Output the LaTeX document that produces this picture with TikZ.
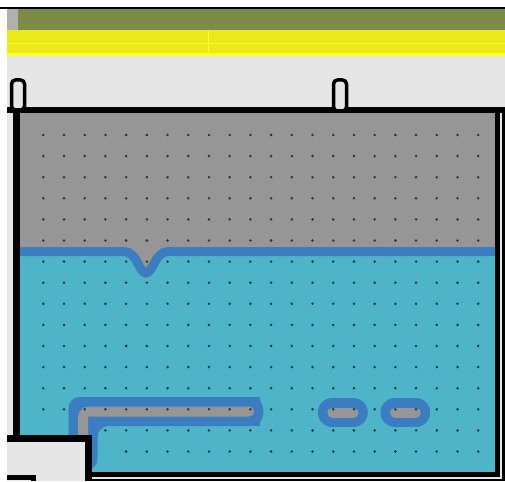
\documentclass[tikz,border=0pt]{standalone}
\usepackage{tikz}
\definecolor{bargreen}{HTML}{7A8C47}
\definecolor{barstub}{HTML}{B0B0AC}
\definecolor{baryellow}{HTML}{ECE91B}
\definecolor{barline}{HTML}{FFFF30}
\definecolor{floorgrey}{HTML}{E6E6E6}
\definecolor{airgrey}{HTML}{969696}
\definecolor{water}{HTML}{4EB4C7}
\definecolor{pipeblue}{HTML}{3A7DC1}
\definecolor{dotgrey}{HTML}{2B3636}
\tikzset{wall/.style={line width=7pt, black},
  surface/.style={line width=9pt, pipeblue},
  pipeedge/.style={line width=29pt, pipeblue, line cap=round},
  pipecore/.style={line width=10pt, airgrey, line cap=round},
  fitting/.style={line width=3.5pt, black, fill=floorgrey, rounded corners=4pt},
  dot/.style={fill=dotgrey}}

\begin{document}
\begin{tikzpicture}[x=1pt, y=-1pt]
\useasboundingbox (0,0) rectangle (505,481);
\fill [white] (0,0) rectangle (505,481);
% header bars
\draw [line width=2pt] (0,8.5) -- (505,8.5);
\fill [barstub] (7,9.5) rectangle (18,30);
\fill [bargreen] (18,9.5) rectangle (505,30);
\fill [baryellow] (7,30) rectangle (505,53);
\fill [barline] (7,53) rectangle (505,56.5);
\draw [barline, line width=1.3pt] (7,43.5) -- (505,43.5);
\draw [barline, line width=1.3pt] (208.5,31) -- (208.5,53);
\fill [floorgrey] (7,56.5) rectangle (505,481);
% tank contents
\fill [airgrey] (16.5,110) rectangle (497.5,475);
\fill [water] (16.5,251.5) -- (124,251.5) .. controls (137,251.5) and (139,273) .. (146,273)
  .. controls (153,273) and (155,251.5) .. (168,251.5) -- (497.5,251.5) -- (497.5,475) -- (16.5,475) -- cycle;
\draw [surface] (16.5,251.5) -- (124,251.5) .. controls (137,251.5) and (139,273) .. (146,273)
  .. controls (153,273) and (155,251.5) .. (168,251.5) -- (497.5,251.5);
% bubbles
\fill [pipeblue, rounded corners=11pt] (68.5,470) -- (68.5,397) -- (249,397)
  arc [start angle=-90, end angle=90, radius=14.5] -- (97.5,426) -- (97.5,470) -- cycle;
\draw [pipecore, rounded corners=6pt] (83,470) -- (83,411.5) -- (249,411.5);
\draw [pipeedge] (332.3,412.5) -- (353.3,412.5);
\draw [pipeedge] (395,412.5) -- (415.7,412.5);
\draw [pipecore] (332.3,412.5) -- (353.3,412.5);
\draw [pipecore] (395,412.5) -- (415.7,412.5);
% dot grid
\foreach \r in {0,...,13}
  \foreach \c in {0,...,21}
    \fill [dot] (43.3+20.71*\c, 135+21.1*\r) circle (1.4);
\foreach \c in {3,...,21}
  \fill [dot] (43.3+20.71*\c, 430.4) circle (1.4);
\foreach \c in {4,...,21}
  \fill [dot] (43.3+20.71*\c, 451.5) circle (1.4);
% walls
\draw [wall] (16.5,110) -- (16.5,440);
\draw [wall, line width=5pt] (497.5,110) -- (497.5,477);
\draw [wall, line width=5pt] (88,474.5) -- (500,474.5);
\draw [line width=3pt] (503.5,108) -- (503.5,481);
\draw [line width=2.5pt] (88,480) -- (505,480);
\draw [wall, line width=6.5pt] (7,110) -- (505,110);
% outlet box
\fill [floorgrey] (7,438.5) rectangle (88.5,481);
\draw [wall] (7,438.5) -- (88.5,438.5) -- (88.5,481);
\draw [line width=5pt] (7,477) -- (33.5,477) -- (33.5,481);
% lid fittings
\draw [fitting] (11.5,80) rectangle (24.5,110);
\draw [fitting] (333.5,80) rectangle (346.5,111);
\end{tikzpicture}
\end{document}
